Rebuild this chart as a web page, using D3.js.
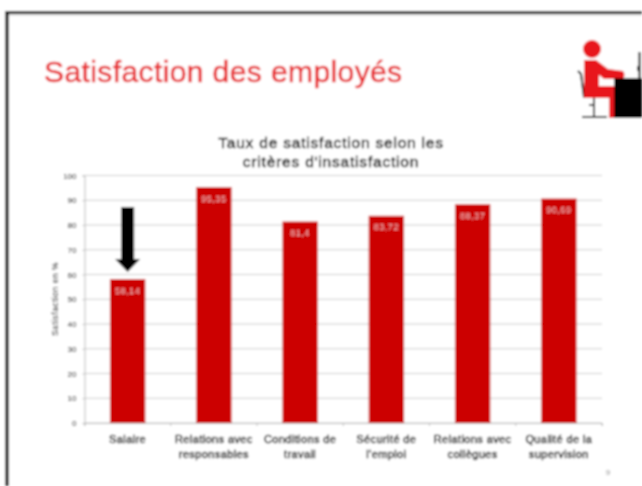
<!DOCTYPE html>
<html>
<head>
<meta charset="utf-8">
<script src="https://cdn.jsdelivr.net/npm/d3@7"></script>
<style>
  html, body { margin: 0; padding: 0; background: #fff; overflow: hidden; }
  svg { display: block; }
  text { font-family: "Liberation Sans", Arial, sans-serif; }
</style>
</head>
<body>
<div id="chart"></div>
<script>
const categories = [
  ["Salaire"],
  ["Relations avec", "responsables"],
  ["Conditions de", "travail"],
  ["Sécurité de", "l'emploi"],
  ["Relations avec", "collègues"],
  ["Qualité de la", "supervision"]
];
const values = [58.14, 95.35, 81.4, 83.72, 88.37, 90.69];
const valueLabels = ["58,14", "95,35", "81,4", "83,72", "88,37", "90,69"];
const yTicks = [0, 10, 20, 30, 40, 50, 60, 70, 80, 90, 100];
const chartTitle = ["Taux de satisfaction selon les", "critères d'insatisfaction"];

const width = 642, height = 486;
const margin = {top: 175.5, right: 40, bottom: 63, left: 84.5};

const svg = d3.select("#chart").append("svg")
    .attr("width", width)
    .attr("height", height);

// the reference is a low res slide capture, so everything gets a slight blur
// (below about 0.8 chromium does not blur at all)
svg.append("filter").attr("id", "soft")
    .attr("filterUnits", "userSpaceOnUse")
    .attr("x", 0).attr("y", 0)
    .attr("width", width).attr("height", height)
    .append("feGaussianBlur").attr("stdDeviation", 0.8);
const root = svg.append("g").attr("filter", "url(#soft)");

root.append("rect").attr("width", width).attr("height", height).attr("fill", "#fff");

// slide frame
root.append("path")
    .attr("d", "M7,486V12.5")
    .attr("stroke", "#333")
    .attr("stroke-width", 4);
root.append("path")
    .attr("d", "M5,12.5H642")
    .attr("stroke", "#000")
    .attr("stroke-width", 3);
root.append("path")
    .attr("d", "M9,15H642")
    .attr("stroke", "#c4c4c4")
    .attr("stroke-width", 1);

root.append("text")
    .attr("x", 44)
    .attr("y", 82)
    .attr("font-size", 30)
    .attr("letter-spacing", 0.4)
    .attr("fill", "#e82a2e")
    .attr("stroke", "#e82a2e")
    .attr("stroke-width", 0.5)
    .text("Satisfaction des employés");

// person at desk icon
const icon = root.append("g");
icon.append("path").attr("fill", "none").attr("stroke", "#000").attr("stroke-width", 2)
    .attr("d", "M578,71L581,74L584,97H596 M594,97V116 M582,117H607 M589,105H594");
icon.append("circle").attr("cx", 592).attr("cy", 49).attr("r", 9).attr("fill", "#e8161a");
icon.append("path").attr("fill", "#e8161a")
    .attr("d", "M584,60H596L608,69L623,71Q626,75 623,79H604L599,75V86H615V118H609V98H584Z");
icon.append("path").attr("fill", "#000")
    .attr("d", "M614,78H642V118H614Z M638.5,52H640.5V78H638.5Z M637,66H639V71H637Z");

// grid
const x = d3.scaleBand()
    .domain(d3.range(categories.length))
    .range([margin.left, width - margin.right])
    .padding(0);
const y = d3.scaleLinear()
    .domain([0, 100])
    .range([height - margin.bottom, margin.top]);
const barWidth = x.bandwidth() * 0.41;
const xCenter = i => x(i) + x.bandwidth() / 2;

root.append("g").selectAll("line")
    .data(yTicks)
    .enter().append("line")
    .attr("x1", margin.left)
    .attr("x2", width - margin.right)
    .attr("y1", d => y(d))
    .attr("y2", d => y(d))
    .attr("stroke", "#ccc");

// y axis
const yAxis = root.append("g")
    .attr("transform", `translate(${margin.left},0)`)
    .call(d3.axisLeft(y).tickValues(yTicks).tickSize(2).tickPadding(6));
yAxis.selectAll("text").attr("font-size", 8).attr("fill", "#000").style("font-family", "Liberation Sans");
yAxis.selectAll("line").attr("stroke", "#bbb");
yAxis.select(".domain").attr("stroke", "#bbb");

// x axis ticks, labels are added by hand for the two lines
const xAxis = root.append("g")
    .attr("transform", `translate(0,${y(0)})`)
    .call(d3.axisBottom(x).tickValues([]).tickSize(3));
xAxis.select(".domain").attr("stroke", "#bbb");
xAxis.selectAll("line.sep")
    .data(d3.range(categories.length + 1))
    .enter().append("line")
    .attr("class", "sep")
    .attr("x1", d => margin.left + d * x.bandwidth())
    .attr("x2", d => margin.left + d * x.bandwidth())
    .attr("y1", 0)
    .attr("y2", 3)
    .attr("stroke", "#bbb");

// bars
root.append("g").selectAll("rect")
    .data(values)
    .enter().append("rect")
    .attr("x", (d, i) => xCenter(i) - barWidth / 2)
    .attr("y", d => y(d))
    .attr("width", barWidth)
    .attr("height", d => y(0) - y(d))
    .attr("fill", "#cc0000");

// value labels
root.append("g").selectAll("text")
    .data(values)
    .enter().append("text")
    .attr("x", (d, i) => xCenter(i))
    .attr("y", d => y(d) + 14.5)
    .attr("text-anchor", "middle")
    .attr("font-size", 9)
    .attr("letter-spacing", 0.5)
    .attr("fill", "#fff")
    .attr("fill-opacity", 0.75)
    .text((d, i) => valueLabels[i]);

// category labels
const catLabels = root.append("g").selectAll("text")
    .data(categories)
    .enter().append("text")
    .attr("x", (d, i) => xCenter(i))
    .attr("y", 443)
    .attr("text-anchor", "middle")
    .attr("font-size", 11)
    .attr("letter-spacing", 0.4)
    .attr("fill", "#000")
    .attr("stroke", "#000")
    .attr("stroke-width", 0.4);
catLabels.selectAll("tspan")
    .data(d => d)
    .enter().append("tspan")
    .attr("x", function() { return d3.select(this.parentNode).attr("x"); })
    .attr("dy", (d, i) => i ? 14.5 : 0)
    .text(d => d);

// arrow pointing at the Salaire bar
const arrowX = xCenter(0);
const arrowTip = y(values[0]) - 7;
root.append("path")
    .attr("fill", "#000")
    .attr("d", `M${arrowX - 6.5},${arrowTip - 65}H${arrowX + 6.5}V${arrowTip - 13}H${arrowX + 12.5}L${arrowX},${arrowTip}L${arrowX - 12.5},${arrowTip - 13}H${arrowX - 6.5}Z`);

// y title
root.append("text")
    .attr("transform", "translate(58,299) rotate(-90)")
    .attr("text-anchor", "middle")
    .attr("font-size", 8.5)
    .attr("letter-spacing", 0.5)
    .attr("fill", "#000")
    .text("Satisfaction en %");

// chart title
root.append("g").selectAll("text")
    .data(chartTitle)
    .enter().append("text")
    .attr("x", 331)
    .attr("y", (d, i) => 148 + i * 19)
    .attr("text-anchor", "middle")
    .attr("font-size", 15.5)
    .attr("letter-spacing", 0.8)
    .attr("fill", "#000")
    .attr("stroke", "#000")
    .attr("stroke-width", 0.4)
    .text(d => d);

// page number
root.append("text")
    .attr("x", 608)
    .attr("y", 475)
    .attr("text-anchor", "middle")
    .attr("font-size", 8)
    .attr("fill", "#888")
    .text("9");
</script>
</body>
</html>
